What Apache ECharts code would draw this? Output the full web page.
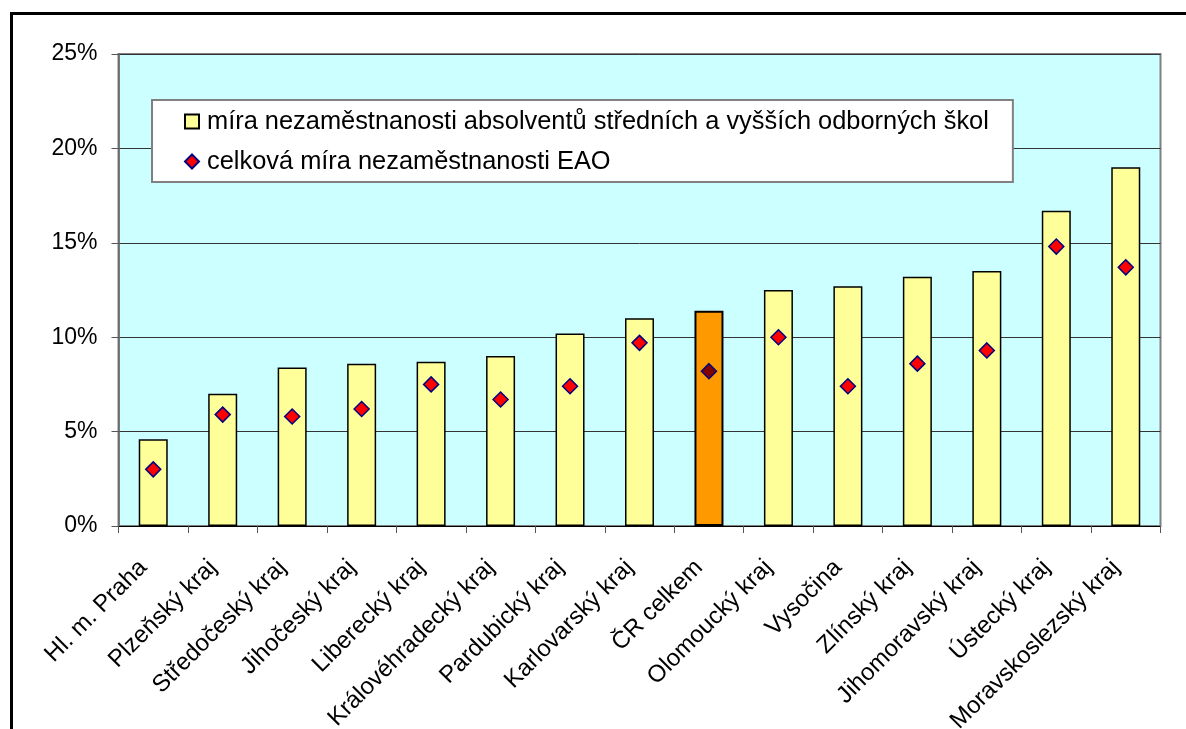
<!DOCTYPE html>
<html>
<head>
<meta charset="utf-8">
<script src="https://cdn.jsdelivr.net/npm/echarts@6/dist/echarts.min.js"></script>
<style>
  html, body { margin: 0; padding: 0; background: #fff; }
  #chart { width: 1186px; height: 729px; }
</style>
</head>
<body>
<div id="chart"></div>
<script>
// kraje
var categories = ['Hl. m. Praha', 'Plzeňský kraj', 'Středočeský kraj', 'Jihočeský kraj',
  'Liberecký kraj', 'Královéhradecký kraj', 'Pardubický kraj', 'Karlovarský kraj',
  'ČR celkem', 'Olomoucký kraj', 'Vysočina', 'Zlínský kraj', 'Jihomoravský kraj',
  'Ústecký kraj', 'Moravskoslezský kraj'];

// míra nezaměstnanosti absolventů (%)
var absolventi = [4.6, 7.0, 8.4, 8.6, 8.7, 9.0, 10.2, 11.0, 11.4, 12.5, 12.7, 13.2, 13.5, 16.7, 19.0];
// celková míra nezaměstnanosti EAO (%)
var celkova = [3.0, 5.9, 5.8, 6.2, 7.5, 6.7, 7.4, 9.7, 8.2, 10.0, 7.4, 8.6, 9.3, 14.8, 13.7];

var yTicks = [0, 5, 10, 15, 20, 25];
var highlight = 'ČR celkem';

var FONT = 'Arial, "Liberation Sans", sans-serif';

var chart = echarts.init(document.getElementById('chart'));

var option = {
  backgroundColor: '#fff',
  animation: false,
  graphic: [{
    type: 'rect',
    shape: { x: 11.5, y: 13.5, width: 1400, height: 1000 },
    style: { fill: 'none', stroke: '#000', lineWidth: 3 },
    silent: true
  }],
  grid: {
    left: 118.5, right: 25.5, top: 54, bottom: 203,
    outerBoundsMode: 'none',
    containLabel: false,
    show: true,
    backgroundColor: '#CCFFFF',
    borderColor: '#808080',
    borderWidth: 2
  },
  legend: {
    orient: 'vertical',
    left: 152, top: 100,
    padding: [9, 24, 8, 32],
    backgroundColor: '#fff',
    borderColor: '#808080',
    borderWidth: 2,
    itemWidth: 14, itemHeight: 14,
    itemGap: 15,
    selectedMode: false,
    textStyle: { fontFamily: FONT, fontSize: 25.4, color: '#000', lineHeight: 25, padding: [0, 0, 0, 3] },
    data: [
      { name: 'míra nezaměstnanosti absolventů středních a vyšších odborných škol', icon: 'rect' },
      { name: 'celková míra nezaměstnanosti EAO', icon: 'diamond' }
    ]
  },
  xAxis: {
    type: 'category',
    data: categories,
    axisLine: { lineStyle: { color: '#000', width: 1 } },
    axisTick: { show: true, length: 7, lineStyle: { color: '#555' } },
    axisLabel: {
      rotate: 45, interval: 0, margin: 28,
      padding: [0, 14, 0, 0],
      fontFamily: FONT, fontSize: 24, color: '#000'
    }
  },
  yAxis: {
    type: 'value',
    min: 0, max: 25, interval: 5,
    axisLine: { show: true, lineStyle: { color: '#666', width: 1.5 } },
    axisTick: { show: true, length: 7, lineStyle: { color: '#555' } },
    axisLabel: {
      margin: 21, fontFamily: FONT, fontSize: 23, color: '#000',
      formatter: function (v) { return yTicks.indexOf(v) >= 0 ? v + '%' : ''; }
    },
    splitLine: { lineStyle: { color: '#333', width: 1 } }
  },
  series: [
    {
      name: 'míra nezaměstnanosti absolventů středních a vyšších odborných škol',
      type: 'bar',
      barWidth: 29,
      itemStyle: { color: '#FFFF99', borderColor: '#000', borderWidth: 1.5 },
      data: absolventi.map(function (v, i) {
        return categories[i] === highlight
          ? { value: v, itemStyle: { color: '#FF9900', borderWidth: 2 } }
          : v;
      }),
      z: 2
    },
    {
      name: 'celková míra nezaměstnanosti EAO',
      type: 'scatter',
      symbol: 'diamond',
      symbolSize: 15,
      itemStyle: { color: '#FF0000', borderColor: '#000080', borderWidth: 1.5, opacity: 1 },
      data: celkova.map(function (v, i) {
        return categories[i] === highlight
          ? { value: v, itemStyle: { color: '#800000' } }
          : v;
      }),
      z: 3
    }
  ]
};

chart.setOption(option);
</script>
</body>
</html>
